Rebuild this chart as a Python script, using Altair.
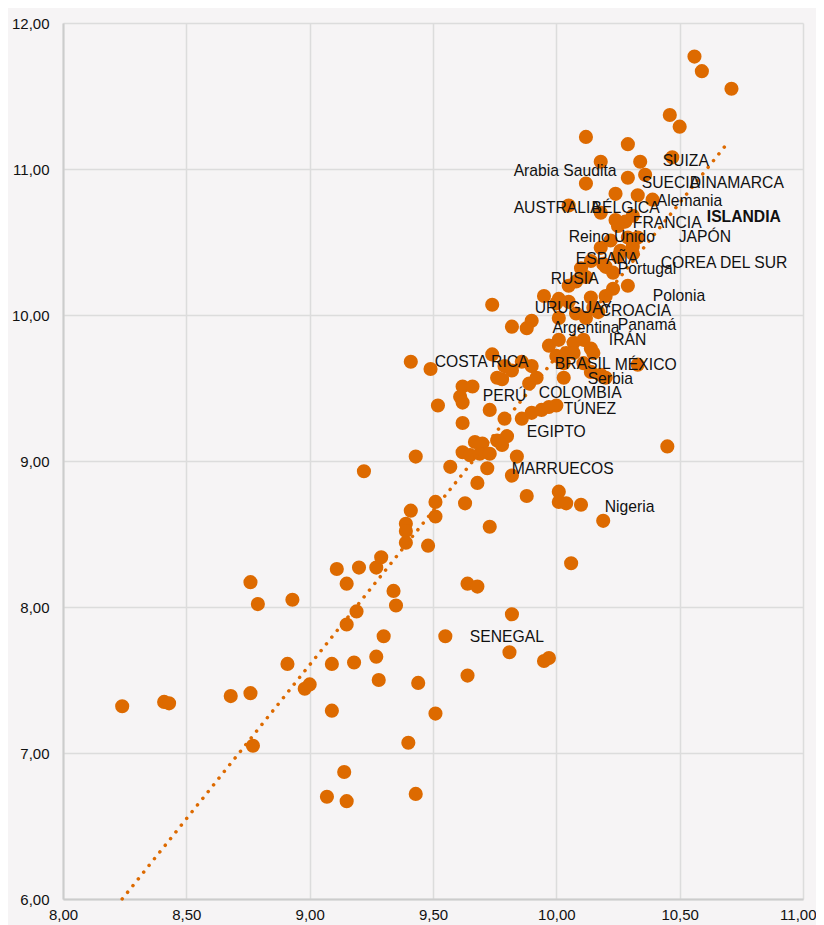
import altair as alt
import pandas as pd

# ---- scatter data ----
x_vals = [
    10.56, 10.59, 10.71, 10.46, 10.50, 10.12,
    10.29, 10.18, 10.34, 10.47, 10.29, 10.36, 10.12, 10.24, 10.33, 10.39,
    10.05, 10.18, 10.24, 10.28, 10.31, 10.25, 10.18, 10.22, 10.29, 10.33, 10.26, 10.31,
    10.10, 10.14, 10.19, 10.25, 10.31, 10.20, 10.23, 10.08, 10.12, 10.05, 10.29, 10.23,
    9.95, 10.01, 10.05, 10.14, 10.20,
    9.74, 10.00, 10.15, 10.08, 10.12, 10.17, 9.90, 9.88, 9.82, 10.01,
    9.97, 10.01, 10.07, 10.11, 10.14, 10.15, 10.00, 10.04, 10.07, 10.11, 9.74, 9.79,
    9.82, 9.41, 9.49, 9.86, 9.90, 9.76, 9.78, 9.89, 9.92, 10.03, 10.03, 10.14, 10.18,
    10.20, 10.33,
    9.62, 9.66, 9.61, 9.62, 9.52, 9.73, 9.79, 9.86, 9.90, 9.94, 9.97, 10.00, 9.62,
    9.67, 9.70, 9.76, 9.80, 9.78, 10.45, 9.62, 9.65, 9.69, 9.73, 9.57, 9.72, 9.84,
    9.43, 9.82, 9.22, 9.68,
    9.88, 10.01, 10.01, 10.04, 10.10, 10.19, 9.63, 9.51, 9.41, 9.51, 9.73, 9.39,
    9.39, 9.39, 9.48, 10.06,
    9.27, 9.29, 9.11, 9.20, 9.15, 8.76, 8.79, 8.93, 9.34, 9.35, 9.64, 9.68, 9.19,
    9.15, 9.82, 9.30, 9.55, 9.27, 9.09, 9.18, 8.91, 9.81, 9.97, 9.95, 9.28, 9.44,
    9.64, 8.98, 9.00, 8.68, 8.76,
    8.24, 8.41, 8.43, 9.09, 9.51, 8.77, 9.40, 9.14, 9.07, 9.15, 9.43,
]
y_vals = [
    11.77, 11.67, 11.55, 11.37, 11.29, 11.22,
    11.17, 11.05, 11.05, 11.08, 10.94, 10.96, 10.90, 10.83, 10.82, 10.79,
    10.75, 10.70, 10.65, 10.64, 10.68, 10.61, 10.46, 10.51, 10.53, 10.53, 10.44, 10.47,
    10.32, 10.37, 10.35, 10.40, 10.42, 10.33, 10.29, 10.23, 10.26, 10.20, 10.20, 10.18,
    10.13, 10.11, 10.09, 10.12, 10.13,
    10.07, 10.08, 10.05, 10.01, 9.98, 10.02, 9.96, 9.91, 9.92, 9.98,
    9.79, 9.83, 9.81, 9.83, 9.77, 9.74, 9.72, 9.74, 9.74, 9.67, 9.73, 9.65,
    9.62, 9.68, 9.63, 9.68, 9.65, 9.57, 9.56, 9.53, 9.57, 9.57, 9.67, 9.61, 9.59,
    9.57, 9.66,
    9.51, 9.51, 9.44, 9.40, 9.38, 9.35, 9.29, 9.29, 9.33, 9.35, 9.37, 9.38, 9.26,
    9.13, 9.12, 9.14, 9.17, 9.11, 9.10, 9.06, 9.04, 9.05, 9.05, 8.96, 8.95, 9.03,
    9.03, 8.90, 8.93, 8.85,
    8.76, 8.79, 8.72, 8.71, 8.70, 8.59, 8.71, 8.72, 8.66, 8.62, 8.55, 8.57,
    8.52, 8.44, 8.42, 8.30,
    8.27, 8.34, 8.26, 8.27, 8.16, 8.17, 8.02, 8.05, 8.11, 8.01, 8.16, 8.14, 7.97,
    7.88, 7.95, 7.80, 7.80, 7.66, 7.61, 7.62, 7.61, 7.69, 7.65, 7.63, 7.50, 7.48,
    7.53, 7.44, 7.47, 7.39, 7.41,
    7.32, 7.35, 7.34, 7.29, 7.27, 7.05, 7.07, 6.87, 6.70, 6.67, 6.72,
]

# ---- country labels ----
label_names = [
    "SUIZA", "Arabia Saudita", "SUECIA", "DINAMARCA", "Alemania", "AUSTRALIA",
    "BÉLGICA", "FRANCIA", "Reino Unido", "JAPÓN", "ESPAÑA", "COREA DEL SUR",
    "Portugal", "RUSIA", "Polonia", "URUGUAY", "CROACIA", "Panamá", "Argentina",
    "IRÁN", "COSTA RICA", "BRASIL", "MÉXICO", "Serbia", "COLOMBIA", "PERÚ",
    "TÚNEZ", "EGIPTO", "MARRUECOS", "Nigeria", "SENEGAL",
]
label_x = [
    10.431, 9.827, 10.346, 10.541, 10.407, 9.827,
    10.143, 10.310, 10.050, 10.496, 10.079, 10.423,
    10.249, 9.977, 10.391, 9.912, 10.176, 10.249, 9.984,
    10.213, 9.507, 9.994, 10.237, 10.127, 9.929, 9.702,
    10.030, 9.880, 9.819, 10.196, 9.649,
]
label_y = [
    11.053, 10.985, 10.902, 10.902, 10.779, 10.731,
    10.731, 10.628, 10.532, 10.532, 10.382, 10.354,
    10.313, 10.245, 10.129, 10.047, 10.026, 9.930, 9.909,
    9.827, 9.676, 9.662, 9.656, 9.560, 9.464, 9.443,
    9.354, 9.197, 8.943, 8.683, 7.793,
]
bold_names = ["ISLANDIA"]
bold_x = [10.610]
bold_y = [10.669]

# ---- trend line endpoints ----
trend_x = [8.24, 10.70]
trend_y = [6.00, 11.19]

x_ticks = [8.0, 8.5, 9.0, 9.5, 10.0, 10.5, 11.0]
y_ticks = [6.0, 7.0, 8.0, 9.0, 10.0, 11.0, 12.0]

ORANGE = "#dd6a00"
FONT = "Liberation Sans"
TEXT = "#111111"
LABEL_SIZE = 15.7

points = pd.DataFrame({"x": x_vals, "y": y_vals})
labels = pd.DataFrame({"name": label_names, "x": label_x, "y": label_y})
bold = pd.DataFrame({"name": bold_names, "x": bold_x, "y": bold_y})
trend = pd.DataFrame({"x": trend_x, "y": trend_y})

lab_expr = "replace(format(datum.value, '.2f'), '.', ',')"

x_enc = alt.X(
    "x:Q",
    scale=alt.Scale(domain=[8, 11], nice=False, zero=False),
    axis=alt.Axis(
        values=x_ticks, labelExpr=lab_expr, title=None, ticks=False,
        grid=True, gridColor="#dcdcdc", gridWidth=1.5,
        domain=True, domainColor="#cccccc", domainWidth=2,
        labelFont=FONT, labelFontSize=15, labelColor=TEXT, labelPadding=8,
        labelFlush=False, labelOverlap=False, labelBound=False,
        labelAlign={"condition": {"test": "datum.value >= 11", "value": "right"}, "value": "center"},
        labelOffset={"condition": {"test": "datum.value >= 11", "value": 13}, "value": 0},
    ),
)
y_enc = alt.Y(
    "y:Q",
    scale=alt.Scale(domain=[6, 12], nice=False, zero=False),
    axis=alt.Axis(
        values=y_ticks, labelExpr=lab_expr, title=None, ticks=False,
        grid=True, gridColor="#dcdcdc", gridWidth=1.5,
        domain=True, domainColor="#cccccc", domainWidth=2,
        labelFont=FONT, labelFontSize=15, labelColor=TEXT, labelPadding=14,
        labelFlush=False, labelOverlap=False, labelBound=False,
    ),
)

pts = alt.Chart(points).mark_circle(size=200, color=ORANGE, opacity=1).encode(x=x_enc, y=y_enc)

line = alt.Chart(trend).mark_line(
    color=ORANGE, strokeWidth=3.5, strokeCap="round", strokeDash=[0.1, 8.5]
).encode(x="x:Q", y="y:Q")

txt = alt.Chart(labels).mark_text(
    align="left", baseline="middle", font=FONT, fontSize=LABEL_SIZE, color=TEXT
).encode(x="x:Q", y="y:Q", text="name:N")

txt_b = alt.Chart(bold).mark_text(
    align="left", baseline="middle", font=FONT, fontSize=LABEL_SIZE, color=TEXT, fontWeight="bold"
).encode(x="x:Q", y="y:Q", text="name:N")

chart = (
    alt.layer(pts, line, txt, txt_b)
    .properties(
        width=740,
        height=876,
        autosize=alt.AutoSizeParams(type="none"),
        padding={"left": 55, "top": 15, "right": 13, "bottom": 26},
        background="#f6f4f5",
    )
    .configure_view(stroke=None)
)

chart.save("out.html", embed_options={"renderer": "svg", "actions": False})
